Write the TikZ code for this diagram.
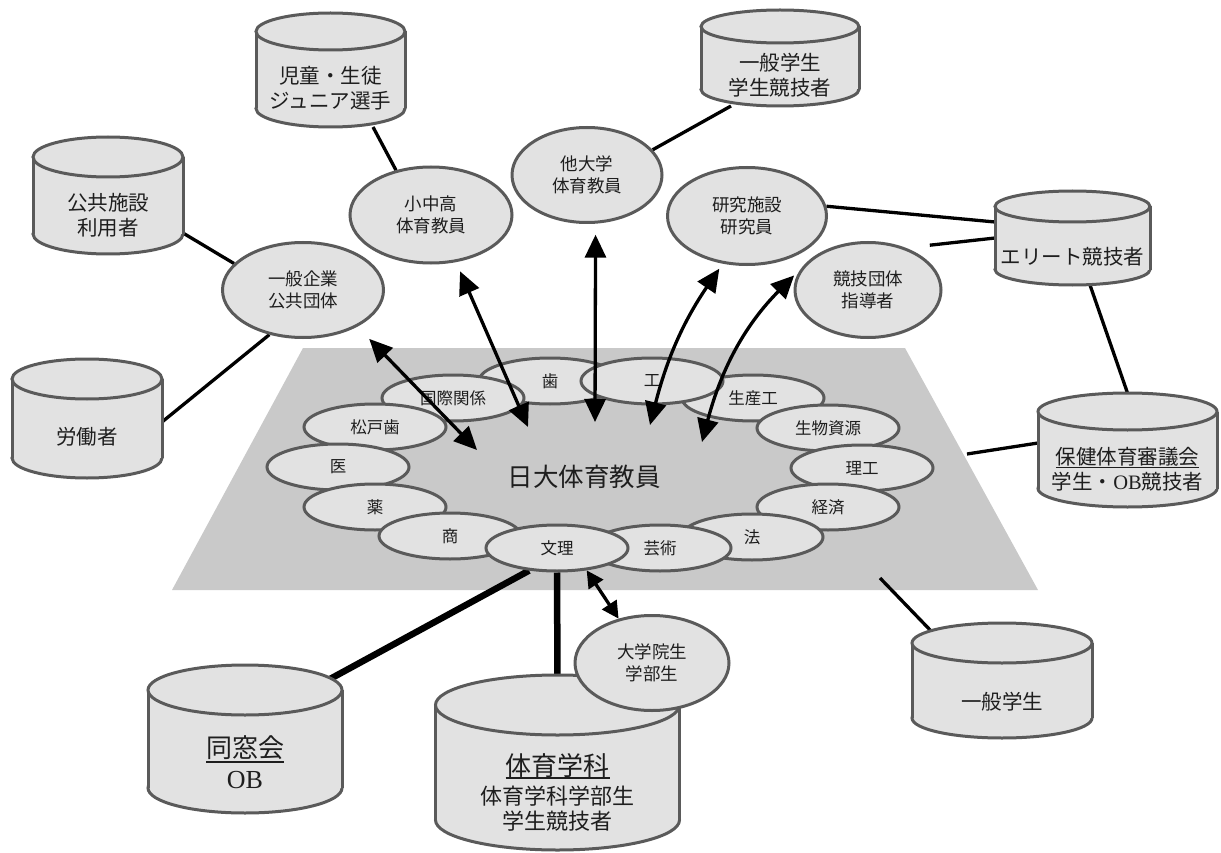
\documentclass[tikz,border=0pt]{standalone}
\usepackage{fontspec}
\setmainfont{Noto Sans CJK JP}
\newfontfamily\serfont{Liberation Serif}
\usetikzlibrary{arrows.meta,shapes.geometric}
\definecolor{shapefill}{HTML}{E2E2E2}
\definecolor{edgecol}{HTML}{5A5A5A}
\definecolor{platecol}{HTML}{C9C9C9}
\definecolor{txtcol}{HTML}{1E1E1E}
\pgfdeclarelayer{plate}
\pgfdeclarelayer{links}
\pgfsetlayers{plate,links,main}
\newcommand\ulbox[2][3.5pt]{\setbox0=\hbox{#2}\rlap{\rule[-#1]{\wd0}{1.5pt}}\box0}
\tikzset{
  cylpart/.style={draw=edgecol,fill=shapefill,line width=3pt},
  cylside/.style={draw=edgecol,line width=3pt},
  cylbox/.style={rectangle,inner sep=0pt,outer sep=0pt},
  cyltxt/.style={align=center,inner sep=0pt,font=\fontsize{20.5}{25}\selectfont},
  ring/.style={ellipse,draw=edgecol,fill=shapefill,line width=3pt,minimum width=142pt,minimum height=46pt,inner sep=0pt,font=\fontsize{16.5}{20}\selectfont},
  outer/.style={ellipse,draw=edgecol,fill=shapefill,line width=3pt,minimum width=155pt,minimum height=95pt,inner sep=0pt,align=center,font=\fontsize{17.5}{22}\selectfont},
  link/.style={draw=black,line width=3.3pt},
  heavy/.style={draw=black,line width=6.5pt},
  dbl/.style={{Triangle[length=23pt,width=21pt]}-{Triangle[length=23pt,width=21pt]},draw=black,line width=3.3pt},
  dblsmall/.style={{Triangle[length=17pt,width=17pt]}-{Triangle[length=17pt,width=17pt]},draw=black,line width=3.3pt},
}
\newcommand\cylinderat[6]{%
  \pgfmathsetmacro\cylL{#2-#5/2}%
  \pgfmathsetmacro\cylR{#2+#5/2}%
  \pgfmathsetmacro\cylT{#3+#6}%
  \pgfmathsetmacro\cylB{#4-#6}%
  \pgfmathsetmacro\cylRx{#5/2}%
  \pgfmathsetmacro\cylM{(#3+#4)/2}%
  \pgfmathsetmacro\cylH{#4-#3}%
  \filldraw[cylpart] (#2,\cylB) ellipse [x radius=\cylRx pt, y radius=#6pt];
  \fill[shapefill] (\cylL,\cylT) rectangle (\cylR,\cylB);
  \draw[cylside] (\cylL,\cylT) -- (\cylL,\cylB) (\cylR,\cylT) -- (\cylR,\cylB);
  \filldraw[cylpart] (#2,\cylT) ellipse [x radius=\cylRx pt, y radius=#6pt];
  \node[cylbox, minimum width=#5pt, minimum height=\cylH pt] (#1) at (#2,\cylM) {};
}
\begin{document}
\begin{tikzpicture}[x=1pt,y=-1pt,every node/.append style={text=txtcol}]
\useasboundingbox (0,0) rectangle (1221,853);
% plate
\begin{pgfonlayer}{plate}
\fill[platecol] (303,348) -- (905,348) -- (1038,590) -- (172,590) -- cycle;
\end{pgfonlayer}
\coordinate (plh) at (967,454);
\coordinate (plg) at (880,578);
% cylinders
\cylinderat{jido}{330.5}{13}{127}{149}{18.5}
\node[cyltxt] (jido-t) at (330.5,88.5) {児童・生徒\\ジュニア選手};
\cylinderat{koukyou}{108}{137}{254}{150}{20}
\node[cyltxt] (koukyou-t) at (108,215.5) {公共施設\\利用者};
\cylinderat{roudou}{87}{359}{478}{150}{20}
\node[cyltxt] (roudou-t) at (87,437) {労働者};
\cylinderat{gakusei1}{780}{10}{106}{158}{16.5}
\node[cyltxt] (gakusei1-t) at (780,75.5) {一般学生\\学生競技者};
\cylinderat{elite}{1072.5}{191}{285}{155}{15.5}
\node[cyltxt] (elite-t) at (1072.5,257) {エリート競技者};
\cylinderat{hoken}{1127.5}{393}{507}{179}{18.5}
\node[cyltxt] (hoken-t) at (1127.5,469.5) {\ulbox{保健体育審議会}\\学生・{\serfont OB}競技者};
\cylinderat{gakusei2}{1002}{623}{738}{180}{20}
\node[cyltxt] (gakusei2-t) at (1002,702) {一般学生};
\cylinderat{dousou}{245}{665}{813}{194}{25}
\node[align=center,inner sep=0pt,font=\fontsize{26}{31}\selectfont] (dousou-t) at (245,762.5) {\ulbox[5pt]{同窓会}\\{\serfont OB}};
\cylinderat{taiiku}{557.5}{675}{850}{244}{30}
\node[align=center,inner sep=0pt,font=\fontsize{22}{25}\selectfont] (taiiku-t) at (557.5,792) {{\fontsize{26}{30}\selectfont\ulbox[3.5pt]{体育学科}}\\[4pt]体育学科学部生\\学生競技者};
% outer ellipses
\node[outer] (kigyo) at (303,290) [minimum width=161pt] {一般企業\\公共団体};
\node[outer] (shochu) at (431,215) [minimum width=162pt,minimum height=96pt] {小中高\\体育教員};
\node[outer] (tadai) at (587,175) [minimum width=150pt] {他大学\\体育教員};
\node[outer] (kenkyu) at (747,216) [minimum width=159pt,minimum height=97pt] {研究施設\\研究員};
\node[outer] (kyogi) at (868,290) [minimum width=146pt] {競技団体\\指導者};
\node[outer] (inse) at (652,663) [minimum width=154pt] {大学院生\\学部生};
% ring
\node[ring] (seisan) at (753,398) {生産工};
\node[ring] (ha) at (550,381) {歯};
\node[ring] (kou) at (652,381) {工};
\node[ring] (kokusai) at (453,398) {国際関係};
\node[ring] (matsudo) at (375,427) {松戸歯};
\node[ring] (i) at (338,467) {医};
\node[ring] (yaku) at (375,507) {薬};
\node[ring] (shou) at (450,536) {商};
\node[ring] (seibutsu) at (828,428) {生物資源};
\node[ring] (riko) at (862,468) {理工};
\node[ring] (keizai) at (828,507) {経済};
\node[ring] (hou) at (752,537) {法};
\node[ring] (geijutsu) at (660,548) {芸術};
\node[ring] (bunri) at (557,548) {文理};
\node[font=\fontsize{25.5}{30}\selectfont] (nichidai) at (584,477) {日大体育教員};
% plain links
\begin{pgfonlayer}{links}
\draw[link] ([xshift=42.5pt]jido.south) -- (shochu.128);
\draw[link] ([xshift=-49pt]gakusei1.south) -- (tadai.21);
\draw[link] ([yshift=-37.5pt]koukyou.east) -- (kigyo.159);
\draw[link] ([yshift=-3.5pt]roudou.east) -- (kigyo.233);
\draw[link] (kenkyu.7) -- ([yshift=16pt]elite.west);
\draw[link, shorten <=24pt] (kyogi.48) -- (elite.west);
\draw[link] ([xshift=17.5pt]elite.south) -- (hoken.north);
\draw[link] (plh) -- ([yshift=7pt]hoken.west);
\draw[link] (plg) -- ([xshift=-69pt,yshift=-10pt]gakusei2.north);
\draw[heavy] (bunri.219) -- ([xshift=85pt,yshift=-14pt]dousou.north);
\draw[heavy] (bunri.south) -- ([yshift=-3pt]taiiku.north);
\end{pgfonlayer}
% arrows
\coordinate (t1) at (477,450);
\coordinate (t2) at (528,427);
\coordinate (t3) at (595,422);
\coordinate (t4) at (650,425);
\coordinate (t5) at (702,442);
\draw[dbl, shorten >=17pt] (t1) -- (kigyo.-34.6);
\draw[dbl, shorten >=10pt] (t2) -- (shochu.-62.4);
\draw[dbl, shorten >=11pt] (t3) -- (tadai.-80.3);
\draw[dbl, shorten >=6pt] (t4) to[bend left=10] (kenkyu.-117.5);
\draw[dbl, shorten >=10pt] (t5) to[bend left=15] (kyogi.162.5);
\draw[dblsmall] (bunri.-37) -- (inse.127);
\end{tikzpicture}
\end{document}
